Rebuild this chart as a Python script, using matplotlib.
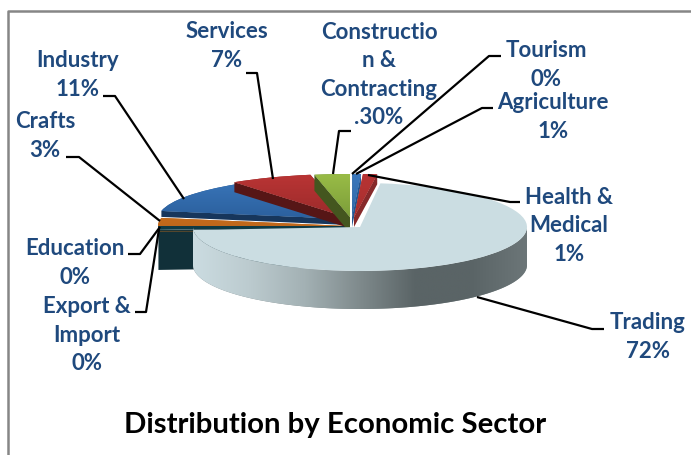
import numpy as np
import matplotlib
matplotlib.use('Agg')
import matplotlib.pyplot as plt
from matplotlib.colors import LinearSegmentedColormap
from matplotlib.patches import Polygon
from matplotlib.transforms import Affine2D

W, H = 691, 456

# clockwise from the top of the pie: Tourism, Agriculture, Health, Trading, Export,
# Education, Crafts, Industry, Services, Construction
values = [0.05, 0.7, 1.2, 72, 1, 0.1, 3, 12, 7, 3]
top_colors = [('#3b78bd', '#2a5f9c'), ('#3b78bd', '#2a5f9c'), ('#b83434', '#a02c2c'),
              ('#cbdde2', '#cbdde2'), ('#1d4a55', '#1d4a55'), ('#d0761f', '#c06a1a'),
              ('#d0761f', '#b8621a'), ('#3b78bd', '#24558f'), ('#bb3535', '#8e2626'),
              ('#9abd47', '#6f9034')]
wall_colors = ['#24558f', '#24558f', '#86292a', '#5c6668', '#113039', '#113039',
               '#0f3a44', '#17365c', '#561616', '#44561f']

label_names = ['Services', 'Industry', 'Crafts', 'Education', 'Export &\nImport',
               'Constructio\nn &\nContracting', 'Tourism', 'Agriculture',
               'Health &\nMedical', 'Trading']
label_pcts = ['7%', '11%', '3%', '0%', '0%', '.30%', '0%', '1%', '1%', '72%']
label_xy = [(227, 46), (78, 75), (45, 136), (75, 263), (87, 335),
            (379, 75), (546, 65), (553, 117), (569, 226), (648, 337)]
leaders = [[(246, 74), (257, 74), (273, 180)],
           [(103, 97), (115, 97), (184, 200)],
           [(66, 158), (79, 158), (160, 222)],
           [(128, 255), (140, 255), (160, 228)],
           [(135, 313), (146, 313), (159, 230)],
           [(351, 132), (339, 132), (333, 175)],
           [(501, 57), (489, 57), (352, 175)],
           [(493, 109), (482, 109), (356, 175)],
           [(520, 203), (510, 203), (368, 176)],
           [(604, 330), (592, 330), (477, 298)]]

# wedge position tweaks in pixels: dx, dy of the centre and wall height
offsets = [(2, 0), (2, 0), (4, 0), (0, 0), (-2, 10), (0, 14), (-2, 9), (-2, 2), (-4, 0), (0, 0)]
wall_depth = [0, 10, 10, 38, 40, 0, 3, 6, 10, 16]
wall_edge = [0, 0, 0, 0, 1, 0, 1, 1, 1, 1]  # 0 = theta1, 1 = theta2


def py(y):
    return H - y


def gradient(ax, clip, extent, colors, horizontal=False, zorder=1):
    cmap = LinearSegmentedColormap.from_list('g', colors)
    grad = np.linspace(0, 1, 256)
    grad = grad.reshape(1, -1) if horizontal else grad.reshape(-1, 1)
    im = ax.imshow(grad, cmap=cmap, extent=extent, aspect='auto', origin='upper', zorder=zorder)
    im.set_clip_path(clip)


fig = plt.figure(figsize=(W / 100, H / 100), dpi=100)
ax = fig.add_axes([0, 0, 1, 1])
wedges, _ = ax.pie(values, startangle=90, counterclock=False)

z = 2
for i in [4, 5, 6, 7, 8, 9, 0, 1, 2, 3]:
    w = wedges[i]
    if i == 3:
        cx, cy, rx, ry = 360, py(228), 167, 44
    else:
        cx, cy, rx, ry = 350 + offsets[i][0], py(218) - offsets[i][1], 190, 43
    trans = Affine2D().scale(rx, ry).translate(cx, cy)

    if i == 3:
        # outer rim of the big slice
        t = np.radians(np.linspace(180, 360, 120))
        upper = np.column_stack([cx + rx * np.cos(t), cy + ry * np.sin(t)])
        lower = upper[::-1] - [0, wall_depth[i]]
        rim = Polygon(np.vstack([upper, lower]), facecolor='#7f8a8c', edgecolor='none', zorder=z)
        ax.add_patch(rim)
        gradient(ax, rim, (cx - rx, cx + rx, py(320), py(220)),
                 ['#cbdce1', '#bccbcf', '#a3b1b4', '#7f8a8c', '#5a6466', '#5a6466', '#6c7678'],
                 horizontal=True, zorder=z)
        z += 1
    elif wall_depth[i] > 0:
        t = np.radians(w.theta2 if wall_edge[i] else w.theta1)
        tip = (cx + rx * np.cos(t), cy + ry * np.sin(t))
        d = wall_depth[i]
        ax.add_patch(Polygon([tip, (cx, cy), (cx, cy - d), (tip[0], tip[1] - d)],
                             facecolor=wall_colors[i], edgecolor='none', zorder=z))
        z += 1

    w.set_transform(trans + ax.transData)
    w.set_facecolor(top_colors[i][1])
    w.set_edgecolor('none')
    w.set_zorder(z)
    z += 1
    if top_colors[i][0] != top_colors[i][1]:
        gradient(ax, w, (cx - rx, cx + rx, cy - 20, cy + ry + 2), list(top_colors[i]), zorder=z)
        z += 1

# leaders are drawn above the pie
for pts in leaders:
    xs, ys = zip(*pts)
    ax.plot(xs, [py(y) for y in ys], color='black', lw=1.6, zorder=50, solid_capstyle='butt')

for name, pct, (x, y) in zip(label_names, label_pcts, label_xy):
    ax.text(x, py(y), name + '\n' + pct, ha='center', va='center', ma='center',
            fontfamily='Lato', fontweight='bold', fontsize=16, color='#1f497d',
            linespacing=1.44, zorder=60)

ax.text(335, py(425), 'Distribution by Economic Sector', ha='center', va='center',
        fontfamily='Lato', fontweight='bold', fontsize=21.2, color='black', zorder=60)

ax.plot([8.5, 8.5, W], [0, py(12), py(12)], color='#868686', lw=1.8, zorder=70)

ax.set_aspect('auto')
ax.set_xlim(0, W)
ax.set_ylim(0, H)
ax.axis('off')
fig.savefig('out.png', dpi=100)
